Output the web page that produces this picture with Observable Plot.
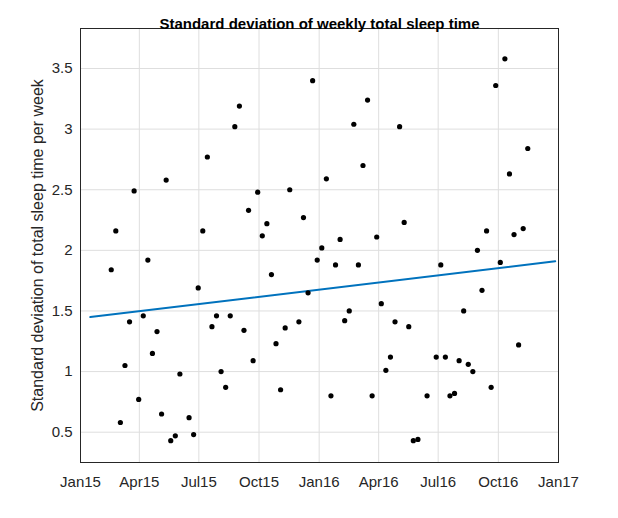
<!DOCTYPE html>
<html>
<head>
<meta charset="utf-8">
<script src="https://cdn.jsdelivr.net/npm/d3@7"></script>
<script src="https://cdn.jsdelivr.net/npm/@observablehq/plot@0.6"></script>
<style>
  body { margin: 0; background: white; }
  #chart { font-family: "Liberation Sans", Arial, sans-serif; }
</style>
</head>
<body>
<div id="chart"></div>
<script>
// weekly dates (Tuesdays), a few weeks have no value
const dates = [
  "2015-02-17","2015-02-24","2015-03-03","2015-03-10","2015-03-17","2015-03-24","2015-03-31",
  "2015-04-07","2015-04-14","2015-04-21","2015-04-28","2015-05-05","2015-05-12","2015-05-19",
  "2015-05-26","2015-06-02","2015-06-16","2015-06-23","2015-06-30","2015-07-07","2015-07-14",
  "2015-07-21","2015-07-28","2015-08-04","2015-08-11","2015-08-18","2015-08-25","2015-09-01",
  "2015-09-08","2015-09-15","2015-09-22","2015-09-29","2015-10-06","2015-10-13","2015-10-20",
  "2015-10-27","2015-11-03","2015-11-10","2015-11-17","2015-12-01","2015-12-08","2015-12-15",
  "2015-12-22","2015-12-29",
  "2016-01-05","2016-01-12","2016-01-19","2016-01-26","2016-02-02","2016-02-09","2016-02-16",
  "2016-02-23","2016-03-01","2016-03-08","2016-03-15","2016-03-22","2016-03-29","2016-04-05",
  "2016-04-12","2016-04-19","2016-04-26","2016-05-03","2016-05-10","2016-05-17","2016-05-24",
  "2016-05-31","2016-06-14","2016-06-28","2016-07-05","2016-07-12","2016-07-19","2016-07-26",
  "2016-08-02","2016-08-09","2016-08-16","2016-08-23","2016-08-30","2016-09-06","2016-09-13",
  "2016-09-20","2016-09-27","2016-10-04","2016-10-11","2016-10-18","2016-10-25","2016-11-01",
  "2016-11-08","2016-11-15"
];
const sdValues = [
  1.84,2.16,0.58,1.05,1.41,2.49,0.77,1.46,1.92,1.15,1.33,0.65,2.58,0.43,0.47,0.98,
  0.62,0.48,1.69,2.16,2.77,1.37,1.46,1.00,0.87,1.46,3.02,3.19,1.34,2.33,1.09,2.48,
  2.12,2.22,1.80,1.23,0.85,1.36,2.50,1.41,2.27,1.65,3.40,1.92,
  2.02,2.59,0.80,1.88,2.09,1.42,1.50,3.04,1.88,2.70,3.24,0.80,2.11,1.56,1.01,1.12,
  1.41,3.02,2.23,1.37,0.43,0.44,0.80,1.12,1.88,1.12,0.80,0.82,1.09,1.50,1.06,1.00,
  2.00,1.67,2.16,0.87,3.36,1.90,3.58,2.63,2.13,1.22,2.18,2.84
];
// fitted trend line end points
const trendDates = ["2015-01-16", "2016-12-27"];
const trendValues = [1.45, 1.91];
const xTicks = ["2015-01-01","2015-04-01","2015-07-01","2015-10-01","2016-01-01","2016-04-01","2016-07-01","2016-10-01","2017-01-01"];
const yTicks = [0.5, 1, 1.5, 2, 2.5, 3, 3.5];

const points = dates.map((d, i) => ({date: new Date(d), sd: sdValues[i]}));
const trend = trendDates.map((d, i) => ({date: new Date(d), sd: trendValues[i]}));
const xTickDates = xTicks.map(d => new Date(d));

const chart = Plot.plot({
  width: 618,
  height: 518,
  marginLeft: 80,
  marginRight: 60,
  marginTop: 28,
  marginBottom: 56,
  style: {fontFamily: "Liberation Sans, Arial, sans-serif", fontSize: "15px", color: "#262626", background: "white"},
  x: {type: "utc", domain: [new Date("2015-01-01"), new Date("2017-01-01")]},
  y: {domain: [0.25, 3.83]},
  marks: [
    Plot.gridX(xTickDates, {stroke: "#dedede", strokeOpacity: 1}),
    Plot.gridY(yTicks, {stroke: "#dedede", strokeOpacity: 1}),
    Plot.frame({stroke: "#262626"}),
    Plot.axisX({ticks: xTickDates, tickFormat: d3.utcFormat("%b%y"), tickSize: 0, tickPadding: 14, fontSize: 15, label: null}),
    Plot.axisY({ticks: yTicks, tickFormat: d => String(d), tickSize: 0, tickPadding: 8, fontSize: 15, label: null}),
    Plot.line(trend, {x: "date", y: "sd", stroke: "#0072bd", strokeWidth: 2}),
    Plot.dot(points, {x: "date", y: "sd", r: 2.6, fill: "black", stroke: "none"}),
    Plot.text(["Standard deviation of weekly total sleep time"], {frameAnchor: "top", dy: -10, fontWeight: "bold", fontSize: 15, fill: "black"}),
    Plot.text(["Standard deviation of total sleep time per week"], {frameAnchor: "left", dx: -43, rotate: -90, textAnchor: "middle", fontSize: 16, fill: "#262626"})
  ]
});

d3.select("#chart").append(() => chart);
</script>
</body>
</html>
